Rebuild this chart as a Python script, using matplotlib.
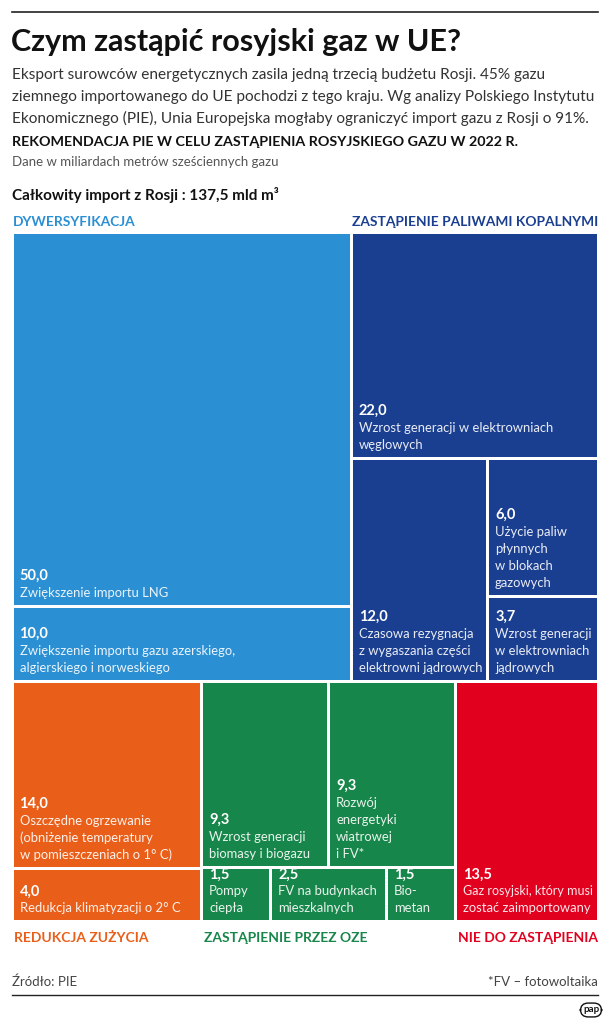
import matplotlib
matplotlib.use("Agg")
import matplotlib.pyplot as plt
from matplotlib.patches import Rectangle

plt.rcParams['font.family'] = ['Lato', 'DejaVu Sans']

# --- data (mld m3) ---
dyw_values = [50.0, 10.0]
dyw_labels = ["Zwiększenie importu LNG",
              "Zwiększenie importu gazu azerskiego,\nalgierskiego i norweskiego"]
pal_values = [22.0, 12.0, 6.0, 3.7]
pal_labels = ["Wzrost generacji w elektrowniach\nwęglowych",
              "Czasowa rezygnacja\nz wygaszania części\nelektrowni jądrowych",
              "Użycie paliw\npłynnych\nw blokach\ngazowych",
              "Wzrost generacji\nw elektrowniach\njądrowych"]
red_values = [14.0, 4.0]
red_labels = ["Oszczędne ogrzewanie\n(obniżenie temperatury\nw pomieszczeniach o 1° C)",
              "Redukcja klimatyzacji o 2° C"]
oze_values = [9.3, 9.3, 1.5, 2.5, 1.5]
oze_labels = ["Wzrost generacji\nbiomasy i biogazu",
              "Rozwój\nenergetyki\nwiatrowej\ni FV*",
              "Pompy\nciepła",
              "FV na budynkach\nmieszkalnych",
              "Bio-\nmetan"]
nie_values = [13.5]
nie_labels = ["Gaz rosyjski, który musi\nzostać zaimportowany"]

group_names = ["DYWERSYFIKACJA", "ZASTĄPIENIE PALIWAMI KOPALNYMI",
               "REDUKCJA ZUŻYCIA", "ZASTĄPIENIE PRZEZ OZE", "NIE DO ZASTĄPIENIA"]
group_colors = ["#2b8fd3", "#1b3f90", "#e95f1a", "#17864a", "#e2001f"]


def split(rect, weights, horizontal):
    # slice a rect (x0, y0, x1, y1) proportionally to weights
    x0, y0, x1, y1 = rect
    tot = sum(weights)
    out = []
    pos = x0 if horizontal else y0
    span = (x1 - x0) if horizontal else (y1 - y0)
    for w in weights:
        step = span * w / tot
        if horizontal:
            out.append((pos, y0, pos + step, y1))
        else:
            out.append((x0, pos, x1, pos + step))
        pos += step
    return out


fig = plt.figure(figsize=(6.1, 10.24), dpi=100)
ax = fig.add_axes([0, 0, 1, 1])
ax.set_xlim(0, 610)
ax.set_ylim(1024, 0)
ax.axis('off')

area = (12, 232, 598, 922)
top, bottom = split(area, [sum(dyw_values) + sum(pal_values),
                           sum(red_values) + sum(oze_values) + sum(nie_values)], False)
g_dyw, g_pal = split(top, [sum(dyw_values), sum(pal_values)], True)
g_red, g_oze, g_nie = split(bottom, [sum(red_values), sum(oze_values), sum(nie_values)], True)

boxes = []  # (rect, value, label, color)
r = split(g_dyw, dyw_values, False)
for i in range(2):
    boxes.append((r[i], dyw_values[i], dyw_labels[i], group_colors[0]))

p_top, p_bot = split(g_pal, [pal_values[0], sum(pal_values[1:])], False)
p_left, p_right = split(p_bot, [pal_values[1], sum(pal_values[2:])], True)
p_r1, p_r2 = split(p_right, pal_values[2:], False)
for rr, v, l in zip([p_top, p_left, p_r1, p_r2], pal_values, pal_labels):
    boxes.append((rr, v, l, group_colors[1]))

r = split(g_red, red_values, False)
for i in range(2):
    boxes.append((r[i], red_values[i], red_labels[i], group_colors[2]))

o_top, o_bot = split(g_oze, [sum(oze_values[:2]), sum(oze_values[2:])], False)
o_rects = split(o_top, oze_values[:2], True) + split(o_bot, oze_values[2:], True)
for rr, v, l in zip(o_rects, oze_values, oze_labels):
    boxes.append((rr, v, l, group_colors[3]))

boxes.append((g_nie, nie_values[0], nie_labels[0], group_colors[4]))

renderer = fig.canvas.get_renderer()
px_per_unit = fig.dpi * 6.1 / 610  # axes units are pixels

gap = 1.5
for (x0, y0, x1, y1), v, lab, col in boxes:
    ax.add_patch(Rectangle((x0 + gap, y0 + gap), x1 - x0 - 2 * gap, y1 - y0 - 2 * gap,
                           facecolor=col, edgecolor='none'))
    lines = lab.split("\n")
    yb = y1 - gap - 12
    room = (x1 - x0) - 2 * gap - 10
    for k, line in enumerate(reversed(lines)):
        t = ax.text(x0 + gap + 6, yb - 17 * k, line, color='white', alpha=0.9,
                    fontsize=9.4, va='center', ha='left')
        w = t.get_window_extent(renderer).width / px_per_unit
        if w > room:  # shrink text that would spill out of a narrow box
            t.set_fontsize(9.4 * room / w)
    ax.text(x0 + gap + 6, yb - 17 * len(lines), f"{v:.1f}".replace('.', ','),
            color='white', fontsize=10.5, fontweight='bold', va='center', ha='left')

# group labels
for g, name, col in zip([g_dyw, g_pal], group_names[:2], group_colors[:2]):
    ax.text(g[0] + 1, 222, name, color=col, fontsize=9.9, fontweight='bold', va='center')
for g, name, col in zip([g_red, g_oze, g_nie], group_names[2:], group_colors[2:]):
    ax.text(g[0] + 2, 938, name, color=col, fontsize=10, fontweight='bold', va='center')

# header
ax.plot([12, 598], [12, 12], color='#222222', lw=1.2)
ax.text(11, 42, "Czym zastąpić rosyjski gaz w UE?", fontsize=22, fontweight='bold',
        va='center', color='#111111')
sub = ["Eksport surowców energetycznych zasila jedną trzecią budżetu Rosji. 45% gazu",
       "ziemnego importowanego do UE pochodzi z tego kraju. Wg analizy Polskiego Instytutu",
       "Ekonomicznego (PIE), Unia Europejska mogłaby ograniczyć import gazu z Rosji o 91%."]
for i, s in enumerate(sub):
    ax.text(12, 75 + 21.5 * i, s, fontsize=11.1, va='center', color='#333333')
ax.text(12, 142, "REKOMENDACJA PIE W CELU ZASTĄPIENIA ROSYJSKIEGO GAZU W 2022 R.",
        fontsize=10.25, fontweight='bold', va='center', color='#111111')
ax.text(12, 162, "Dane w miliardach metrów sześciennych gazu", fontsize=9.5,
        va='center', color='#555555')
ax.text(12, 195, "Całkowity import z Rosji : 137,5 mld m³", fontsize=11,
        fontweight='bold', va='center', color='#111111')

# footer
ax.text(12, 982, "Źródło: PIE", fontsize=9.5, va='center', color='#444444')
ax.text(598, 982, "*FV – fotowoltaika", fontsize=9.5, va='center', ha='right', color='#444444')
ax.plot([12, 598], [995, 995], color='#222222', lw=1.0)
ax.text(591, 1010, "pap", fontsize=7, fontweight='bold', va='center', ha='center',
        color='#111111', bbox=dict(boxstyle='round,pad=0.25,rounding_size=0.8',
                                   fc='white', ec='#111111', lw=1.0))

fig.savefig("out.png", dpi=100)
